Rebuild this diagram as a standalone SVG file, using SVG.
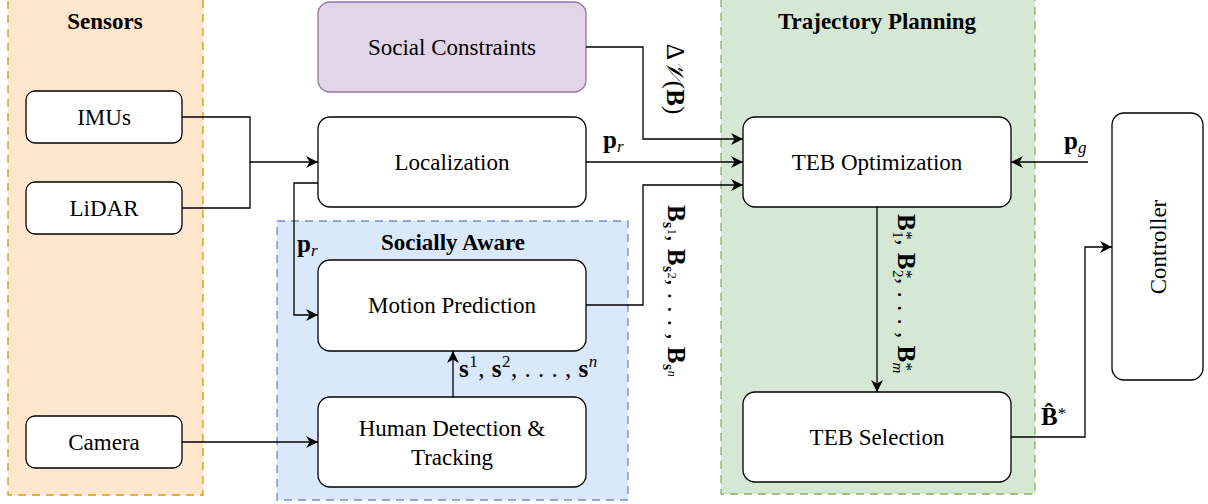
<svg xmlns="http://www.w3.org/2000/svg" width="1208" height="504" viewBox="0 0 1208 504">
<style>
.t{font-family:"Liberation Serif","Times New Roman",serif;font-size:23px;fill:#000;text-anchor:middle}
.b{font-weight:bold}
.m{font-family:"Liberation Serif","Times New Roman",serif;font-size:25px;fill:#000}
.box{fill:#fff;stroke:#000;stroke-width:1.3}
.cont{stroke-width:1.3;stroke-dasharray:8 6}
.c{fill:none;stroke:#000;stroke-width:1.3}
</style>
<defs>
<marker id="a" markerUnits="userSpaceOnUse" markerWidth="12" markerHeight="12" refX="10" refY="5" orient="auto" viewBox="0 0 10 10">
<path d="M0,0 L10,5 L0,10 L3,5 z" fill="#000"/>
</marker>
</defs>
<g id="sensors">
<rect class="cont" x="8" y="-1" width="195" height="496" fill="#ffe6cc" stroke="#d79b00"/>
<text class="t b" x="105" y="29">Sensors</text>
</g>
<g id="socially-aware">
<rect class="cont" x="277" y="221" width="351" height="279" fill="#dae8fc" stroke="#6c8ebf"/>
<text class="t b" x="453" y="250">Socially Aware</text>
</g>
<g id="trajectory-planning">
<rect class="cont" x="721" y="-1" width="314" height="495" fill="#d5e8d4" stroke="#82b366"/>
<text class="t b" x="877" y="29">Trajectory Planning</text>
</g>
<g id="imus">
<rect class="box" x="26" y="91" width="156" height="52" rx="9"/>
<text class="t" x="104" y="125">IMUs</text>
</g>
<g id="lidar">
<rect class="box" x="26" y="182" width="156" height="52" rx="9"/>
<text class="t" x="104" y="216">LiDAR</text>
</g>
<g id="camera">
<rect class="box" x="26" y="416" width="156" height="52" rx="9"/>
<text class="t" x="104" y="450">Camera</text>
</g>
<g id="social-constraints">
<rect x="318" y="2" width="268" height="90" rx="12" fill="#e1d5e7" stroke="#9673a6" stroke-width="1.3"/>
<text class="t" x="452" y="55">Social Constraints</text>
</g>
<g id="localization">
<rect class="box" x="318" y="117" width="268" height="90" rx="12"/>
<text class="t" x="452" y="170">Localization</text>
</g>
<g id="motion-prediction">
<rect class="box" x="318" y="260" width="268" height="91" rx="12"/>
<text class="t" x="452" y="313">Motion Prediction</text>
</g>
<g id="human-detection">
<rect class="box" x="318" y="397" width="268" height="90" rx="12"/>
<text class="t" x="452" y="436">Human Detection &amp;</text>
<text class="t" x="452" y="465">Tracking</text>
</g>
<g id="teb-optimization">
<rect class="box" x="743" y="117" width="268" height="90" rx="12"/>
<text class="t" x="877" y="170">TEB Optimization</text>
</g>
<g id="teb-selection">
<rect class="box" x="743" y="392" width="268" height="90" rx="12"/>
<text class="t" x="877" y="445">TEB Selection</text>
</g>
<g id="controller">
<rect class="box" x="1112" y="113" width="91" height="267" rx="12"/>
<text class="t" transform="translate(1166,247) rotate(-90)" x="0" y="0">Controller</text>
</g>
<g id="connectors">
<path class="c" d="M182,117 H250 V162 H318" marker-end="url(#a)"/>
<path class="c" d="M182,208 H250 V162"/>
<path class="c" d="M182,442 H318" marker-end="url(#a)"/>
<path class="c" d="M318,183 H294 V315 H318" marker-end="url(#a)"/>
<path class="c" d="M586,47 H643 V139 H743" marker-end="url(#a)"/>
<path class="c" d="M586,162 H743" marker-end="url(#a)"/>
<path class="c" d="M586,305 H643 V185 H743" marker-end="url(#a)"/>
<path class="c" d="M453,397 V351" marker-end="url(#a)"/>
<path class="c" d="M877,207 V392" marker-end="url(#a)"/>
<path class="c" d="M1088,162 H1011" marker-end="url(#a)"/>
<path class="c" d="M1011,437 H1085 V247 H1112" marker-end="url(#a)"/>
</g>
<g id="labels">
<text class="m" x="603" y="148"><tspan class="b">p</tspan><tspan font-style="italic" font-size="17" dy="4">r</tspan></text>
<text class="m" x="297" y="252"><tspan class="b">p</tspan><tspan font-style="italic" font-size="17" dy="4">r</tspan></text>
<text class="m" x="1064" y="149"><tspan class="b">p</tspan><tspan font-style="italic" font-size="17" dy="4">g</tspan></text>
<text class="m" x="1041" y="425"><tspan class="b">B&#x302;</tspan><tspan font-size="17" dy="-6">*</tspan></text>
<text class="m" x="459" y="377" letter-spacing="0.5"><tspan class="b">s</tspan><tspan font-size="17" dy="-10">1</tspan><tspan dy="10">, </tspan><tspan class="b">s</tspan><tspan font-size="17" dy="-10">2</tspan><tspan dy="10">, . . . , </tspan><tspan class="b">s</tspan><tspan font-size="17" font-style="italic" dy="-10">n</tspan></text>
<text class="m" text-anchor="middle" transform="translate(667,79) rotate(90)">Δ<tspan font-style="italic">𝒱</tspan>(<tspan class="b">B</tspan>)</text>
<text class="m" text-anchor="middle" letter-spacing="0.5" transform="translate(668,291) rotate(90)"><tspan class="b">B</tspan><tspan class="b" font-size="16" dy="5">s</tspan><tspan font-size="12" dy="-5">1</tspan><tspan>, </tspan><tspan class="b">B</tspan><tspan class="b" font-size="16" dy="5">s</tspan><tspan font-size="12" dy="-5">2</tspan><tspan>, . . . , </tspan><tspan class="b">B</tspan><tspan class="b" font-size="16" dy="5">s</tspan><tspan font-size="12" font-style="italic" dy="-5">n</tspan></text>
<text class="m" text-anchor="middle" letter-spacing="0.5" transform="translate(898,294) rotate(90)"><tspan class="b">B</tspan><tspan font-size="17" dy="-3">*</tspan><tspan font-size="15" dx="-9" dy="8">1</tspan><tspan dy="-5">, </tspan><tspan class="b">B</tspan><tspan font-size="17" dy="-3">*</tspan><tspan font-size="15" dx="-9" dy="8">2</tspan><tspan dy="-5">, . . . , </tspan><tspan class="b">B</tspan><tspan font-size="17" dy="-3">*</tspan><tspan font-size="15" font-style="italic" dx="-9" dy="8">m</tspan></text>
</g>
</svg>
